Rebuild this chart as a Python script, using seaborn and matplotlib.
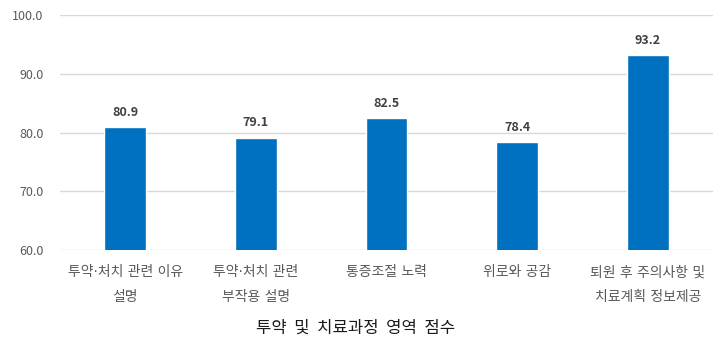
import matplotlib
matplotlib.use("Agg")
import matplotlib.pyplot as plt
import seaborn as sns
import pandas as pd

categories = ["투약·처치 관련 이유\n설명", "투약·처치 관련\n부작용 설명", "통증조절 노력",
              "위로와 공감", "퇴원 후 주의사항 및\n치료계획 정보제공"]
values = [80.9, 79.1, 82.5, 78.4, 93.2]
yticks = [60, 70, 80, 90, 100]
xlabel = "투약 및 치료과정 영역 점수"

sns.set_theme(style="white")
plt.rcParams['font.family'] = ['Noto Sans CJK KR', 'DejaVu Sans']

df = pd.DataFrame({"cat": categories, "val": values})
fig = plt.figure(figsize=(7.28, 3.52), dpi=100)
ax = fig.add_axes([0.0824, 0.290, 0.897, 0.667])
sns.barplot(data=df, x="cat", y="val", color="#0070C0", width=0.32, saturation=1, ax=ax, zorder=3)
ax.set_ylim(60, 100)
ax.set_yticks(yticks)
ax.set_yticklabels([f"{v:.1f}" for v in yticks], color="#595959", fontsize=9)
ax.yaxis.grid(True, color="#D9D9D9", linewidth=1, zorder=0)
ax.tick_params(axis="both", length=0)
ax.tick_params(axis="y", pad=12)
ax.tick_params(axis="x", pad=11)
for lbl in ax.get_xticklabels():
    lbl.set_color("#595959")
    lbl.set_fontsize(10)
    lbl.set_linespacing(2.0)
    lbl.set_family(['DejaVu Sans', 'Noto Sans CJK KR'])
for s in ax.spines.values():
    s.set_visible(False)
ax.set_xlabel("")
ax.set_ylabel("")
for i, v in enumerate(values):
    ax.annotate(f"{v:.1f}", (i, v), xytext=(0, 6), textcoords="offset points",
                ha="center", va="bottom", fontsize=9, color="#404040", fontweight="semibold")
fig.text(0.489, 1 - 328 / 352, "  ".join(xlabel.split(" ")), ha="center", va="center",
         fontsize=12, color="#1a1a1a")
fig.savefig("out.png", dpi=100)
